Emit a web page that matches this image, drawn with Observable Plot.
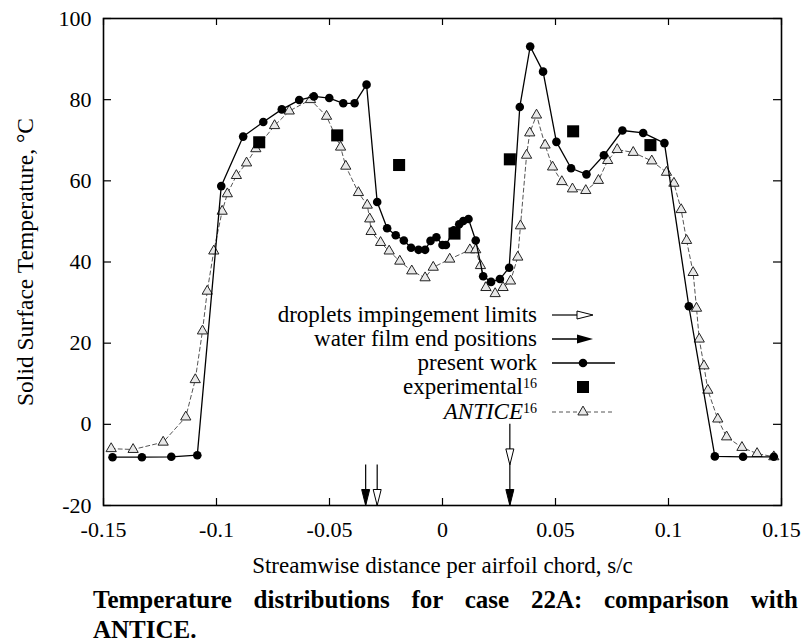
<!DOCTYPE html>
<html>
<head>
<meta charset="utf-8">
<script src="https://cdn.jsdelivr.net/npm/d3@7"></script>
<script src="https://cdn.jsdelivr.net/npm/@observablehq/plot@0.6"></script>
<style>
  body { margin: 0; background: white; }
  #chart { width: 805px; }
  .cap { font-family: "Liberation Serif", serif; font-weight: bold; font-size: 25px; line-height: 30px; color: #000; margin-left: 93px; width: 705px; }
  .cap1 { text-align: justify; text-align-last: justify; }
  .cap2 { text-align: left; }
</style>
</head>
<body>
<div id="chart"></div>
<div class="cap cap1">Temperature distributions for case 22A: comparison with</div>
<div class="cap cap2">ANTICE.</div>
<script>
// ---- data ----
const xTicks = [-0.15, -0.1, -0.05, 0, 0.05, 0.1, 0.15];
const yTicks = [-20, 0, 20, 40, 60, 80, 100];

const presentS = [-0.146, -0.133, -0.120, -0.1085, -0.0979, -0.0882, -0.0793, -0.0711, -0.0634, -0.0569,
  -0.0501, -0.0439, -0.0389, -0.0336, -0.0289, -0.0245, -0.0207, -0.0171, -0.0139, -0.0106,
  -0.0077, -0.0053, -0.0027, 0.0, 0.0015, 0.005, 0.0074, 0.0092, 0.0115, 0.0147,
  0.018, 0.0215, 0.0254, 0.0295, 0.0342, 0.0388, 0.0445, 0.0504, 0.0569, 0.0637,
  0.0714, 0.0796, 0.0888, 0.0982, 0.109, 0.1205, 0.133, 0.1466];
const presentT = [-8.1, -8.1, -8.0, -7.6, 58.7, 70.9, 74.5, 77.6, 79.9, 80.8,
  80.4, 79.1, 79.1, 83.7, 54.8, 48.3, 46.6, 45.3, 43.5, 43.0,
  43.0, 45.2, 46.1, 44.2, 44.2, 47.8, 49.3, 50.1, 50.6, 45.3,
  36.5, 35.1, 35.8, 38.6, 78.2, 93.1, 86.9, 69.6, 63.1, 61.6,
  66.3, 72.4, 71.8, 69.3, 29.1, -7.9, -8.0, -8.0];

const anticeS = [-0.1466, -0.1369, -0.1236, -0.1136, -0.1094, -0.1062, -0.1041, -0.1012, -0.0975, -0.0952,
  -0.0912, -0.0867, -0.0826, -0.0743, -0.0678, -0.0584, -0.0513, -0.0451, -0.0428, -0.0372,
  -0.0333, -0.0322, -0.0316, -0.0274, -0.0236, -0.0189, -0.0136, -0.0077, -0.0041, 0.0032,
  0.0121, 0.0147, 0.0168, 0.0192, 0.0233, 0.0268, 0.0301, 0.0333, 0.0345, 0.0372,
  0.0386, 0.0416, 0.0454, 0.0487, 0.0528, 0.0575, 0.0634, 0.069, 0.0731, 0.0773,
  0.0844, 0.0926, 0.0991, 0.1024, 0.1056, 0.108, 0.1109, 0.1124, 0.1136, 0.1157,
  0.1174, 0.1218, 0.1257, 0.1325, 0.1392, 0.1466];
const anticeT = [-6.0, -6.2, -4.4, 1.8, 11.0, 23.0, 32.8, 42.7, 52.5, 56.8,
  61.3, 64.4, 67.9, 73.6, 77.2, 80.0, 75.9, 68.3, 63.6, 57.1,
  54.0, 50.6, 47.5, 44.8, 42.7, 40.2, 37.8, 36.1, 38.7, 40.7,
  43.0, 43.0, 39.1, 33.7, 32.2, 33.7, 35.3, 41.2, 48.9, 66.3,
  71.8, 76.2, 68.8, 63.4, 59.8, 58.0, 57.6, 60.1, 65.0, 67.7,
  67.0, 64.9, 62.1, 59.4, 52.9, 45.3, 37.4, 28.6, 21.0, 14.4,
  8.4, 1.3, -3.1, -5.7, -7.2, -8.0];

const expS = [-0.0811, -0.0466, -0.0192, 0.0053, 0.0298, 0.0578, 0.092];
const expT = [69.5, 71.2, 63.9, 47.0, 65.3, 72.2, 68.8];

// arrows: position, start temperature, tip temperature, kind
const arrowS = [-0.034, -0.0289, 0.0298, 0.0298];
const arrowFrom = [-10, -10, 0, -10];
const arrowTo = [-20, -20, -10, -20];
const arrowKind = ["film", "droplet", "droplet", "film"];

const legendLabels = ["droplets impingement limits", "water film end positions", "present work", "experimental", "ANTICE"];
const legendSup = ["", "", "", "16", "16"];

const xTitle = "Streamwise distance per airfoil chord, s/c";
const yTitle = "Solid Surface Temperature, \u00B0C";

// ---- tables ----
const present = presentS.map((s, i) => ({s, T: presentT[i]}));
const antice = anticeS.map((s, i) => ({s, T: anticeT[i]}));
const experimental = expS.map((s, i) => ({s, T: expT[i]}));
const arrows = arrowS.map((s, i) => ({s, from: arrowFrom[i], to: arrowTo[i], kind: arrowKind[i]}));

const FONT = "'Liberation Serif', 'Times New Roman', serif";

// arrow head symbol: tip at origin pointing down
const headDown = { draw(ctx) { ctx.moveTo(0, 0); ctx.lineTo(-4, -16); ctx.lineTo(4, -16); ctx.closePath(); } };

function legendMark(index, scales, values, dims) {
  const g = d3.create("svg:g").attr("font-family", FONT).attr("font-size", 23).attr("fill", "black");
  const left = dims.marginLeft;
  const top = dims.marginTop;
  const textX = left + 434;
  const sx1 = left + 449, sx2 = left + 512, mx = left + 480;
  const rowsY = [297, 321, 345, 369, 394].map(d => top + d);
  legendLabels.forEach((lab, i) => {
    const t = g.append("text").attr("x", textX).attr("y", rowsY[i]).attr("dy", "0.32em").attr("text-anchor", "end");
    const main = t.append("tspan").text(lab);
    if (lab === "ANTICE") main.attr("font-style", "italic");
    if (legendSup[i]) t.append("tspan").attr("font-size", 14).attr("dy", "-0.45em").text(legendSup[i]);
  });
  // row 0: open arrow
  let y = rowsY[0];
  g.append("line").attr("x1", sx1).attr("x2", sx1 + 26).attr("y1", y).attr("y2", y).attr("stroke", "black").attr("stroke-width", 1.2);
  g.append("path").attr("d", `M${sx1 + 41},${y}L${sx1 + 25},${y - 4}L${sx1 + 25},${y + 4}Z`).attr("fill", "white").attr("stroke", "black");
  // row 1: filled arrow
  y = rowsY[1];
  g.append("line").attr("x1", sx1).attr("x2", sx1 + 28).attr("y1", y).attr("y2", y).attr("stroke", "black").attr("stroke-width", 1.5);
  g.append("path").attr("d", `M${sx1 + 41},${y}L${sx1 + 25},${y - 4.5}L${sx1 + 25},${y + 4.5}Z`).attr("fill", "black");
  // row 2: present work
  y = rowsY[2];
  g.append("line").attr("x1", sx1).attr("x2", sx2).attr("y1", y).attr("y2", y).attr("stroke", "black").attr("stroke-width", 1.3);
  g.append("circle").attr("cx", mx).attr("cy", y).attr("r", 4.3).attr("fill", "black");
  // row 3: experimental
  y = rowsY[3];
  g.append("rect").attr("x", mx - 6).attr("y", y - 6).attr("width", 12).attr("height", 12).attr("fill", "black");
  // row 4: ANTICE
  y = rowsY[4];
  g.append("line").attr("x1", sx1).attr("x2", sx2).attr("y1", y).attr("y2", y).attr("stroke", "#555").attr("stroke-width", 1).attr("stroke-dasharray", "4,3");
  g.append("path").attr("d", d3.symbol(d3.symbolTriangle, 3.8 * 3.8 * Math.PI)()).attr("transform", `translate(${mx},${y})`).attr("fill", "#e8e8e8").attr("stroke", "#222");
  return g.node();
}

const chart = Plot.plot({
  width: 805,
  height: 585,
  marginLeft: 103,
  marginRight: 24,
  marginTop: 18,
  marginBottom: 80,
  style: { fontFamily: FONT, fontSize: "22px", background: "white", color: "black" },
  x: { domain: [-0.15, 0.15] },
  y: { domain: [-20, 100] },
  marks: [
    // inward ticks on all four sides
    Plot.tickX(xTicks, { x: d => d, insetTop: 480, stroke: "black", strokeWidth: 1.2 }),
    Plot.tickX(xTicks, { x: d => d, insetBottom: 480, stroke: "black", strokeWidth: 1.2 }),
    Plot.tickY(yTicks, { y: d => d, insetRight: 670, stroke: "black", strokeWidth: 1.2 }),
    Plot.tickY(yTicks, { y: d => d, insetLeft: 670, stroke: "black", strokeWidth: 1.2 }),
    Plot.axisX(xTicks, { tickSize: 0, tickPadding: 16, tickFormat: d => String(d), label: null, fontSize: 22 }),
    Plot.axisY(yTicks, { tickSize: 0, tickPadding: 12, tickFormat: d => String(d), label: null, fontSize: 22 }),
    Plot.text([xTitle], { frameAnchor: "bottom", dy: 60, lineAnchor: "middle", textAnchor: "middle", fontSize: 23, text: d => d }),
    Plot.text([yTitle], { frameAnchor: "left", dx: -78, rotate: -90, textAnchor: "middle", lineAnchor: "middle", fontSize: 23.5, text: d => d }),
    // ANTICE
    Plot.line(antice, { x: "s", y: "T", stroke: "#555", strokeWidth: 1, strokeDasharray: "4,3" }),
    Plot.dot(antice, { x: "s", y: "T", symbol: "triangle", r: 3.8, fill: "#e8e8e8", stroke: "#222", strokeWidth: 1 }),
    // present work
    Plot.line(present, { x: "s", y: "T", stroke: "black", strokeWidth: 1.3 }),
    Plot.dot(present, { x: "s", y: "T", r: 4.3, fill: "black", stroke: "none" }),
    // experimental
    Plot.dot(experimental, { x: "s", y: "T", symbol: "square", r: 6.8, fill: "black", stroke: "none" }),
    // arrows
    Plot.ruleX(arrows, { x: "s", y1: "from", y2: "to", stroke: "black", strokeWidth: 1.2 }),
    Plot.dot(arrows, { x: "s", y: "to", symbol: headDown, r: 4, fill: d => d.kind === "film" ? "black" : "white", stroke: "black", strokeWidth: 1 }),
    legendMark,
    Plot.frame({ stroke: "black", strokeWidth: 1.6 })
  ]
});
document.getElementById("chart").appendChild(chart);
</script>
</body>
</html>
